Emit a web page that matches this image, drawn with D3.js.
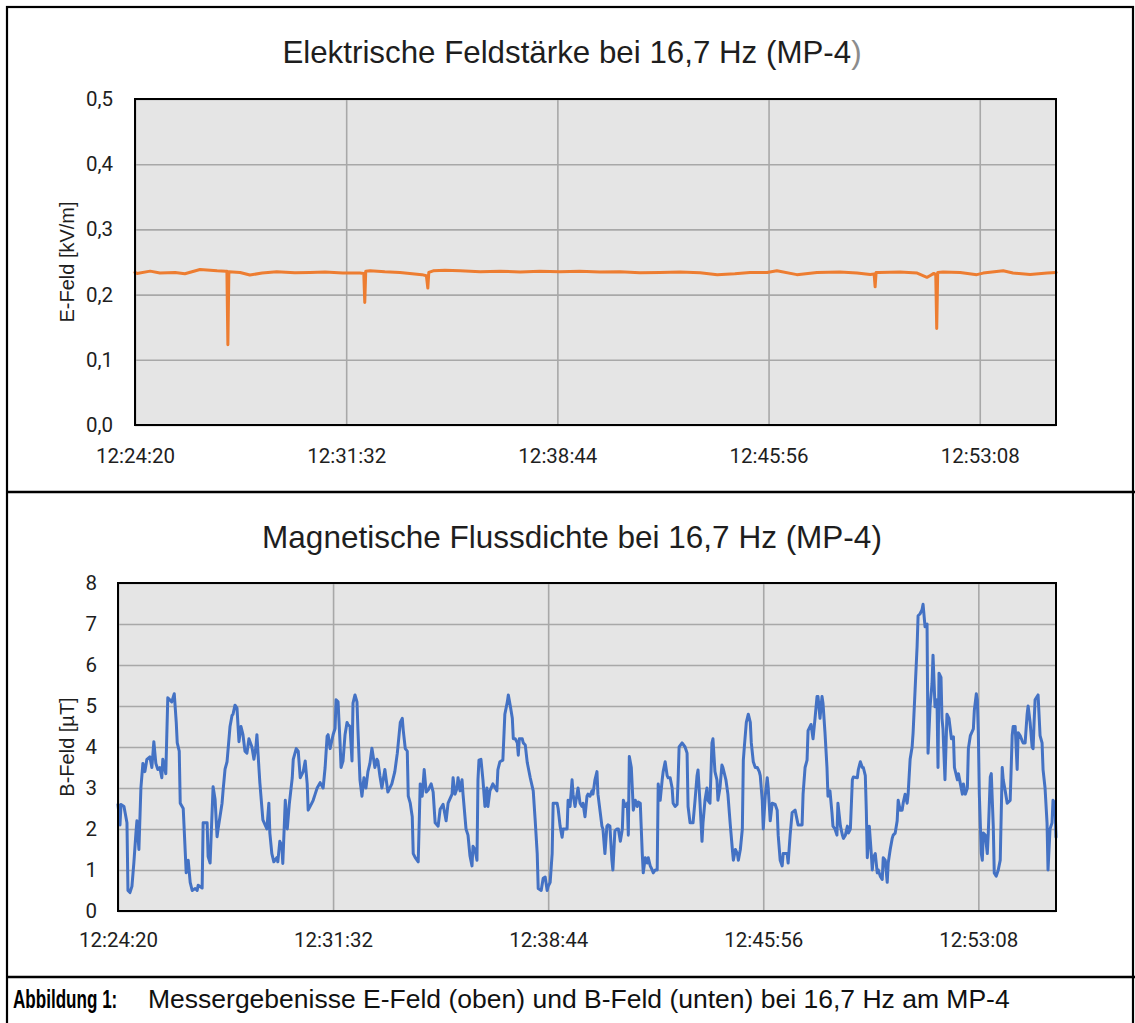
<!DOCTYPE html>
<html>
<head>
<meta charset="utf-8">
<script src="https://cdn.jsdelivr.net/npm/d3@7"></script>
<style>
  body { margin: 0; background: #fff; }
  svg { display: block; }
</style>
</head>
<body>
<svg id="fig" width="1135" height="1023"></svg>
<script>

// Time axis (clock time of the measurement)
const startClock = "12:24:20";
const endSeconds = 1884;
const xTickLabels = ["12:24:20", "12:31:32", "12:38:44", "12:45:56", "12:53:08"];

// E-Feld [kV/m] : [seconds after start, value]
const eTicks = [0, 0.1, 0.2, 0.3, 0.4, 0.5];
const eField = [
  [0,0.234],[4,0.2325],[31,0.236],[51,0.233],[82,0.234],[102,0.232],[133,0.2385],[168,0.2365],
  [186,0.236],[188,0.236],[190,0.123],[192,0.235],[215,0.234],[235,0.230],[260,0.233],[290,0.235],
  [327,0.2335],[358,0.234],[389,0.2345],[425,0.233],[460,0.233],[468,0.2325],[470,0.188],[472,0.236],
  [481,0.2365],[511,0.235],[542,0.234],[587,0.2306],[596,0.229],[599,0.21],[601,0.234],[610,0.2365],
  [634,0.2375],[665,0.2365],[706,0.235],[747,0.236],[788,0.2345],[828,0.236],[869,0.235],[910,0.236],
  [951,0.2345],[992,0.235],[1033,0.2335],[1074,0.234],[1115,0.2345],[1156,0.2335],[1191,0.2306],
  [1227,0.232],[1258,0.234],[1293,0.234],[1313,0.2365],[1354,0.2306],[1395,0.234],[1442,0.2345],
  [1477,0.233],[1504,0.231],[1512,0.2315],[1514,0.212],[1516,0.234],[1522,0.234],[1565,0.2345],
  [1600,0.233],[1620,0.2265],[1626,0.229],[1634,0.2325],[1638,0.231],[1640,0.148],[1642,0.234],
  [1653,0.2345],[1688,0.234],[1722,0.2306],[1735,0.233],[1776,0.2365],[1796,0.233],[1831,0.231],
  [1866,0.233],[1884,0.234]
];

// B-Feld [µT] : [seconds after start, value]
const bTicks = [0, 1, 2, 3, 4, 5, 6, 7, 8];
const bField = [
  [0,2.6],[4,2.1],[6,2.6],[12,2.55],[18,2.15],[20,0.5],[24,0.45],[28,0.6],[32,1.2],[36,1.9],
  [38,2.2],[42,1.5],[46,3.0],[50,3.6],[54,3.4],[58,3.7],[64,3.76],[68,3.5],[72,4.13],[76,3.6],
  [80,3.45],[84,3.5],[88,3.25],[90,3.7],[96,3.35],[100,5.2],[104,5.15],[108,5.1],[113,5.3],[117,4.6],
  [119,4.1],[123,3.9],[125,2.63],[131,2.5],[137,0.93],[141,1.24],[145,0.7],[149,0.5],[155,0.55],[159,0.5],
  [161,0.63],[169,0.56],[171,2.15],[179,2.15],[181,1.33],[185,1.17],[191,3.03],[195,2.72],[199,1.81],[201,2.0],
  [209,2.63],[211,2.93],[215,3.46],[219,3.64],[225,4.5],[229,4.77],[231,4.8],[235,5.02],[239,4.95],[243,4.13],
  [247,4.5],[251,4.3],[255,3.9],[259,3.85],[263,4.2],[269,4.0],[273,3.7],[277,4.0],[279,4.3],[283,3.5],
  [285,3.12],[291,2.22],[299,2.0],[303,2.63],[305,1.9],[309,1.4],[313,1.2],[319,1.3],[321,1.2],[325,1.7],
  [329,1.6],[331,1.16],[336,2.7],[340,2.0],[344,2.6],[350,3.25],[352,3.7],[358,3.96],[362,3.9],[366,3.25],
  [372,3.4],[376,3.66],[380,3.1],[382,2.46],[388,2.6],[392,2.7],[396,2.85],[400,3.0],[406,3.13],[412,3.0],
  [416,3.5],[420,4.26],[422,4.3],[426,3.96],[432,4.3],[436,4.45],[438,5.15],[442,5.1],[446,4.1],[448,3.5],
  [452,3.66],[456,4.3],[460,4.6],[462,4.55],[466,4.5],[470,3.66],[472,5.07],[476,5.27],[480,5.1],[482,4.4],
  [486,3.2],[490,2.8],[494,3.25],[498,3.0],[502,3.4],[506,3.6],[510,3.97],[516,3.5],[520,3.7],[522,3.66],
  [526,3.3],[530,3.0],[536,3.45],[542,2.9],[550,3.1],[556,3.4],[561,3.85],[563,4.1],[567,4.6],[571,4.7],
  [573,4.4],[577,3.96],[581,3.9],[583,2.8],[587,2.63],[591,2.3],[593,1.4],[597,1.3],[603,1.2],[607,3.1],
  [611,2.8],[615,3.45],[619,2.9],[623,2.95],[629,3.1],[633,2.9],[637,2.15],[643,2.07],[647,2.48],[653,2.6],
  [659,2.2],[663,2.63],[671,2.85],[673,3.25],[677,2.85],[681,3.0],[683,3.25],[687,2.93],[691,3.2],[693,2.85],
  [699,2.0],[703,1.85],[707,1.34],[711,1.1],[713,1.58],[717,1.5],[721,1.24],[723,3.2],[725,3.68],[729,3.7],
  [733,3.2],[737,2.55],[741,3.0],[743,2.55],[747,2.93],[753,3.1],[761,2.93],[763,3.44],[767,3.64],[773,3.68],
  [777,4.8],[782,5.1],[784,5.27],[788,5.0],[792,4.7],[794,4.2],[798,4.2],[802,4.1],[804,3.8],[806,4.2],
  [812,4.2],[814,4.1],[818,4.05],[822,3.62],[828,3.25],[834,2.93],[838,2.2],[842,1.4],[844,0.55],[850,0.5],
  [854,0.8],[858,0.83],[862,0.5],[864,0.6],[868,0.7],[872,1.4],[874,2.63],[882,2.63],[884,2.5],[888,2.07],
  [892,1.8],[894,2.0],[902,2.0],[904,2.7],[908,2.55],[912,3.2],[914,2.85],[918,2.55],[922,2.85],[924,3.0],
  [928,2.63],[932,2.55],[934,2.63],[938,2.3],[942,2.8],[944,2.85],[948,2.8],[952,2.93],[954,2.85],[958,3.2],
  [962,3.4],[964,2.85],[968,2.46],[972,2.07],[974,2.0],[978,1.4],[982,2.07],[984,2.1],[988,2.07],[992,1.24],
  [994,1.0],[998,1.95],[1002,2.0],[1005,2.0],[1009,1.7],[1013,2.0],[1015,2.7],[1019,2.55],[1023,2.63],[1025,1.85],
  [1027,3.77],[1031,3.5],[1033,3.0],[1035,2.46],[1039,2.7],[1043,2.55],[1045,2.66],[1049,2.63],[1053,1.4],[1055,0.93],
  [1059,1.3],[1063,1.17],[1065,1.3],[1069,1.1],[1073,1.0],[1075,0.93],[1079,1.0],[1083,1.0],[1085,3.1],[1089,2.7],
  [1093,3.2],[1095,3.4],[1099,3.64],[1103,3.3],[1105,3.25],[1109,3.25],[1113,3.0],[1115,2.63],[1119,2.55],[1123,2.6],
  [1125,3.2],[1127,4.0],[1133,4.1],[1139,4.0],[1143,3.85],[1145,2.55],[1149,2.15],[1155,2.15],[1159,2.7],[1163,3.3],
  [1165,3.44],[1169,2.63],[1173,1.7],[1175,2.15],[1179,2.7],[1183,3.0],[1185,2.7],[1189,2.63],[1193,4.1],[1195,4.2],
  [1199,3.4],[1203,3.2],[1205,2.7],[1209,3.0],[1213,3.56],[1215,3.5],[1221,3.2],[1225,2.85],[1230,2.07],[1234,1.5],
  [1236,1.24],[1240,1.5],[1244,1.4],[1246,1.24],[1250,1.5],[1254,2.0],[1256,3.68],[1258,4.0],[1262,4.6],[1266,4.8],
  [1270,4.6],[1272,4.1],[1276,3.64],[1280,3.5],[1284,3.5],[1288,3.4],[1290,3.3],[1294,2.7],[1296,2.0],[1300,2.8],
  [1304,3.25],[1306,3.0],[1310,2.2],[1314,2.63],[1320,2.6],[1324,2.46],[1326,1.85],[1330,1.24],[1334,1.1],[1336,1.4],
  [1344,1.4],[1346,1.17],[1350,1.85],[1354,2.4],[1360,2.46],[1366,2.1],[1374,2.1],[1376,2.85],[1380,3.5],[1384,3.68],
  [1386,4.4],[1392,4.55],[1396,4.2],[1400,4.7],[1404,5.23],[1406,5.23],[1410,4.7],[1414,5.23],[1416,5.07],[1420,4.35],
  [1424,3.5],[1426,2.8],[1430,2.93],[1434,2.4],[1436,2.07],[1440,2.0],[1444,1.85],[1446,2.63],[1451,2.07],[1455,1.85],
  [1457,1.77],[1461,1.85],[1465,2.07],[1467,1.9],[1471,2.0],[1475,3.2],[1477,3.27],[1485,3.25],[1487,3.45],[1491,3.64],
  [1495,3.5],[1497,3.5],[1501,3.3],[1503,2.46],[1505,1.3],[1509,2.07],[1513,1.4],[1515,1.0],[1517,1.3],[1521,1.4],
  [1525,0.93],[1527,1.0],[1531,0.85],[1535,0.77],[1537,1.3],[1541,1.24],[1545,0.7],[1547,1.17],[1551,1.5],[1555,1.77],
  [1557,1.85],[1561,1.9],[1565,2.2],[1567,2.7],[1571,2.46],[1575,2.46],[1577,2.63],[1581,2.85],[1585,2.63],[1587,2.85],
  [1591,3.7],[1595,4.0],[1597,4.35],[1601,5.4],[1605,6.45],[1607,7.2],[1611,7.25],[1615,7.35],[1617,7.48],[1621,6.93],
  [1625,7.0],[1627,3.85],[1631,4.98],[1635,5.55],[1637,6.24],[1641,4.98],[1645,5.15],[1647,3.5],[1649,5.8],[1653,5.7],
  [1655,4.7],[1657,4.44],[1661,3.2],[1665,4.8],[1669,4.7],[1674,4.2],[1678,4.25],[1680,3.5],[1686,3.2],[1688,3.35],
  [1692,3.1],[1696,2.85],[1698,3.1],[1702,2.85],[1706,3.0],[1708,3.96],[1712,4.28],[1718,4.44],[1720,4.9],[1724,5.3],
  [1726,5.15],[1728,4.35],[1730,2.85],[1734,1.4],[1736,1.24],[1738,1.9],[1742,1.85],[1746,1.4],[1748,1.9],[1752,3.27],
  [1754,3.35],[1758,2.07],[1760,0.93],[1764,0.85],[1768,1.0],[1772,1.24],[1776,3.5],[1778,3.2],[1782,2.93],[1786,2.63],
  [1792,2.7],[1796,4.28],[1798,4.5],[1802,4.5],[1806,3.45],[1808,4.35],[1812,4.28],[1816,4.15],[1818,4.1],[1822,4.1],
  [1826,4.8],[1828,5.0],[1832,4.6],[1836,4.0],[1838,3.96],[1840,4.6],[1842,5.15],[1846,5.23],[1848,5.27],[1852,4.28],
  [1856,4.1],[1858,3.45],[1862,3.0],[1866,2.15],[1868,1.0],[1872,2.0],[1876,2.15],[1878,2.7],[1882,2.63],[1884,1.8]
];

const tickFont = "Roboto, 'Liberation Sans', sans-serif";
const titleFont = "'Liberation Sans', Arial, sans-serif";
const ink = "#1e1e1e";

const parseClock = d3.timeParse("%H:%M:%S");
const t0 = parseClock(startClock);
const at = s => new Date(t0.getTime() + s * 1000);
const xTicks = xTickLabels.map(parseClock);
const commaFmt = f => v => d3.format(f)(v).replace(".", ",");

const svg = d3.select("#fig");

// Frame around both panels and the caption
svg.append("rect")
  .attr("x", 7).attr("y", 7)
  .attr("width", 1126).attr("height", 1040)
  .attr("fill", "none").attr("stroke", "#000").attr("stroke-width", 2.2);
[492, 977].forEach(yy => {
  svg.append("line")
    .attr("x1", 7).attr("x2", 1135).attr("y1", yy).attr("y2", yy)
    .attr("stroke", "#000").attr("stroke-width", 2.4);
});

const drawPanel = (p) => {
  const x = d3.scaleTime()
    .domain([t0, at(endSeconds)])
    .range([p.left, p.right]);
  const y = d3.scaleLinear()
    .domain(d3.extent(p.yTicks))
    .range([p.bottom, p.top]);

  const g = svg.append("g");

  // plot area
  g.append("rect")
    .attr("x", p.left).attr("y", p.top)
    .attr("width", p.right - p.left).attr("height", p.bottom - p.top)
    .attr("fill", "#e5e5e5");

  // gridlines
  const gridX = g.append("g")
    .attr("transform", `translate(0,${p.bottom})`)
    .call(d3.axisBottom(x).tickValues(xTicks).tickSize(-(p.bottom - p.top)).tickFormat(""));
  const gridY = g.append("g")
    .attr("transform", `translate(${p.left},0)`)
    .call(d3.axisLeft(y).tickValues(p.yTicks).tickSize(-(p.right - p.left)).tickFormat(""));
  [gridX, gridY].forEach(a => {
    a.select(".domain").remove();
    a.selectAll("line").attr("stroke", "#a8a8a8").attr("stroke-width", 1.6);
  });

  // tick labels
  const axX = g.append("g")
    .attr("transform", `translate(0,${p.bottom})`)
    .call(d3.axisBottom(x).tickValues(xTicks).tickSize(0).tickPadding(p.xPad)
      .tickFormat((d, i) => xTickLabels[i]));
  const axY = g.append("g")
    .attr("transform", `translate(${p.left},0)`)
    .call(d3.axisLeft(y).tickValues(p.yTicks).tickSize(0).tickPadding(p.yPad)
      .tickFormat(p.tickFmt));
  [axX, axY].forEach(a => {
    a.select(".domain").remove();
    a.selectAll("text")
      .attr("fill", ink)
      .style("font-family", tickFont)
      .style("font-size", "20.5px");
  });

  // series
  const line = d3.line()
    .x(d => x(at(d[0])))
    .y(d => y(d[1]));
  g.append("path")
    .datum(p.data)
    .attr("d", line)
    .attr("fill", "none")
    .attr("stroke", p.color)
    .attr("stroke-width", 3)
    .attr("stroke-linejoin", "round")
    .attr("stroke-linecap", "round");

  // plot border
  g.append("rect")
    .attr("x", p.left).attr("y", p.top)
    .attr("width", p.right - p.left).attr("height", p.bottom - p.top)
    .attr("fill", "none").attr("stroke", "#000").attr("stroke-width", 2);

  // chart title
  const title = g.append("text")
    .attr("x", 572).attr("y", p.titleY)
    .attr("text-anchor", "middle")
    .attr("fill", ink)
    .style("font-family", titleFont)
    .style("font-size", p.titleSize);
  title.append("tspan").text(p.title);
  title.append("tspan").attr("fill", p.closeColor).text(")");

  // axis title
  g.append("text")
    .attr("transform", `translate(67,${(p.top + p.bottom) / 2}) rotate(-90)`)
    .attr("text-anchor", "middle")
    .attr("dy", "0.35em")
    .attr("fill", ink)
    .style("font-family", titleFont)
    .style("font-size", "20px")
    .text(p.yLabel);
};

drawPanel({
  data: eField, yTicks: eTicks, tickFmt: commaFmt(".1f"),
  left: 135, right: 1056, top: 99, bottom: 425, xPad: 23, yPad: 22,
  title: "Elektrische Feldstärke bei 16,7 Hz (MP-4", closeColor: "#8c8c8c",
  titleY: 63, titleSize: "31.3px",
  yLabel: "E-Feld [kV/m]", color: "#ed7d31"
});

drawPanel({
  data: bField, yTicks: bTicks, tickFmt: d3.format("d"),
  left: 118, right: 1056, top: 583, bottom: 911, xPad: 21.5, yPad: 21,
  title: "Magnetische Flussdichte bei 16,7 Hz (MP-4", closeColor: ink,
  titleY: 548, titleSize: "31.5px",
  yLabel: "B-Feld [µT]", color: "#4472c4"
});

// Caption
const capFont = "'Liberation Sans Narrow', 'Arial Narrow', 'Liberation Sans', sans-serif";
svg.append("text")
  .attr("transform", "translate(13,1008) scale(0.67,1)")
  .attr("fill", "#000")
  .style("font-family", capFont).style("font-size", "25.5px").style("font-weight", "bold")
  .text("Abbildung 1:");
svg.append("text")
  .attr("x", 148).attr("y", 1008)
  .attr("fill", "#111")
  .style("font-family", capFont).style("font-size", "26.5px")
  .text("Messergebenisse E-Feld (oben) und B-Feld (unten) bei 16,7 Hz am MP-4");

</script>
</body>
</html>
